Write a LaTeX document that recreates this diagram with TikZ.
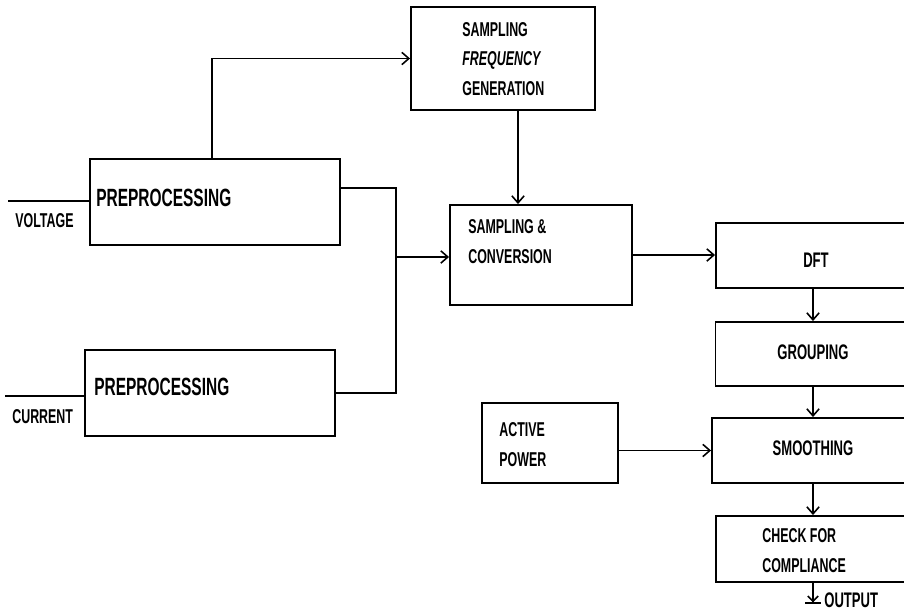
\documentclass[tikz,border=0pt]{standalone}
\usepackage{fontspec}
\newfontfamily\diafont{Liberation Sans}[FakeStretch=0.62]
\usepackage{tikz}
\usetikzlibrary{arrows.meta, positioning, calc}

\begin{document}
\begin{tikzpicture}[x=0.02cm, y=-0.02cm,
  blk/.style={draw, line width=1.1pt, inner sep=0pt},
  lbl/.style={font=\diafont\bfseries\fontsize{11.4}{17}\selectfont, inner sep=0pt, anchor=west, align=left},
  biglbl/.style={font=\diafont\bfseries\fontsize{14.2}{16}\selectfont, inner sep=0pt, anchor=west},
  rlbl/.style={font=\diafont\bfseries\fontsize{12}{14}\selectfont, inner sep=0pt},
  wire/.style={line width=0.9pt},
  flow/.style={wire, -{Straight Barb[length=4pt,width=7pt]}}]

  \useasboundingbox (0,0) rectangle (904,613);
  \clip (0,0) rectangle (904,613);

  % blocks
  \node[blk, minimum width=5cm, minimum height=1.72cm] (pv) at (215,202) {};
  \node[blk, minimum width=5cm, minimum height=1.72cm] (pc) at (210,393) {};
  \node[blk, minimum width=3.68cm, minimum height=2.06cm] (sfg) at (503,58.5) {};
  \node[blk, minimum width=3.64cm, minimum height=2cm] (sc) at (541,255) {};
  \node[blk, minimum width=2.72cm, minimum height=1.6cm] (ap) at (550,443) {};
  \node[blk, minimum width=4cm, minimum height=1.3cm] (dft) at (816,255.5) {};
  \node[blk, minimum width=4cm, minimum height=1.28cm] (grp) at (815.5,354) {};
  \node[blk, minimum width=4.08cm, minimum height=1.3cm] (smo) at (814,450.5) {};
  \node[blk, minimum width=4cm, minimum height=1.32cm] (chk) at (816,549) {};

  % texts
  \node[biglbl] (pvt) at (96,198) {PREPROCESSING};
  \node[biglbl] (pct) at (94,387) {PREPROCESSING};
  \node[lbl] (sfgt) at (462,59) {SAMPLING\\\textit{FREQUENCY}\\GENERATION};
  \node[lbl] (sct) at (468,242) {SAMPLING \&\\CONVERSION};
  \node[lbl] (apt) at (499,445) {ACTIVE\\POWER};
  \node[rlbl] (dftt) at (816,260) {DFT};
  \node[rlbl] (grpt) at (813,352) {GROUPING};
  \node[rlbl] (smot) at (813,448) {SMOOTHING};
  \node[lbl] (chkt) at (762,551) {CHECK FOR\\COMPLIANCE};
  \node[lbl] (vlt) at (15,221) {VOLTAGE};
  \node[lbl] (cur) at (12,417) {CURRENT};

  % inputs
  \coordinate (vin) at (8,201);
  \coordinate (cin) at (5,396);
  \draw[wire] (vin) -- (vin -| pv.west);
  \draw[wire] (cin) -- (cin -| pc.west);

  % to sampling frequency generation
  \coordinate (vtap) at (212,159);
  \draw[flow] (vtap) |- (sfg.west);

  % merge into sampling & conversion
  \coordinate (bus) at (396,257);
  \draw[wire] ($(pv.east)+(0,-14)$) -| (bus);
  \draw[wire] (pc.east) -| (bus);
  \draw[flow] (bus) -- (bus -| sc.west);
  \draw[flow] ($(sfg.south)+(15,0)$) coordinate (ftap) -- (ftap |- sc.north);

  % right column
  \draw[flow] (sc.east) -- (sc.east -| dft.west);
  \draw[flow] (dft.south -| grpt) -- (grp.north -| grpt);
  \draw[flow] (grp.south -| grpt) -- (smo.north -| grpt);
  \draw[flow] (smo.south -| grpt) -- (chk.north -| grpt);
  \draw[flow] (smo.west -| ap.east) -- (smo.west);

  % output
  \coordinate (out) at (813,604);
  \draw[wire, -{Straight Barb[length=3pt,width=6pt] Bar[width=9pt]}] (chk.south -| out) -- (out);
  \node[rlbl, anchor=west] (outt) at (824,600) {OUTPUT};
\end{tikzpicture}
\end{document}
